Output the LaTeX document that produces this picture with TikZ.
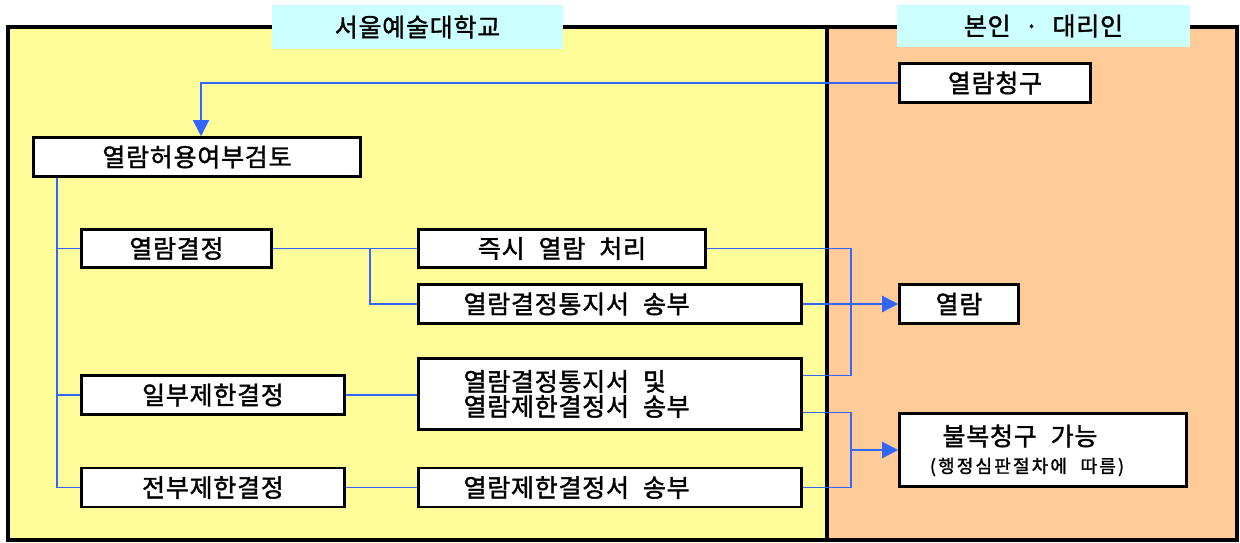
\documentclass[tikz,border=0pt]{standalone}
\usepackage{fontspec}
\setmainfont{Noto Sans CJK KR}[LetterSpace=3,WordSpace=2.2,FakeBold=1.5]
\newfontfamily\smallf{Noto Sans CJK KR}[LetterSpace=12,WordSpace=2.2,FakeBold=1.5]
\usetikzlibrary{arrows.meta}
\definecolor{yel}{HTML}{FFFD99}
\definecolor{org}{HTML}{FFCC99}
\definecolor{cya}{HTML}{CCFFFF}
\definecolor{lnb}{HTML}{3366FF}
\newcommand{\lbx}[1]{\makebox[293pt][l]{#1}}
\tikzset{
  box/.style={draw=black,line width=2.6pt,fill=white,inner sep=0pt,font=\fontsize{25}{25}\selectfont},
  wbox/.style={box,minimum width=383pt,align=left},
  hdr/.style={fill=cya,inner sep=0pt,font=\fontsize{25}{25}\selectfont},
  conn/.style={draw=lnb,line width=1.2pt},
  arr/.style={draw=lnb,line width=2.4pt,-{Triangle[length=16pt,width=16pt]}},
  arrthin/.style={draw=lnb,line width=1.4pt,-{Triangle[length=16pt,width=16pt]}}
}
\begin{document}
\begin{tikzpicture}[x=1pt,y=-1pt]
\useasboundingbox (0,0) rectangle (1240,542);
% panels
\fill[yel] (8,27) rectangle (827,540);
\fill[org] (827,27) rectangle (1237,540);
\draw[line width=4pt] (8,27) rectangle (1237,540);
\draw[line width=4pt] (827,27) -- (827,540);
% headers
\node[hdr,minimum width=291pt,minimum height=44pt] (h1) at (417.5,27) {서울예술대학교};
\node[hdr,minimum width=293pt,minimum height=42pt] (h2) at (1043.5,26) {본인 · 대리인};
% boxes
\node[box,minimum width=191pt,minimum height=39pt] (req) at (995,83) {열람청구};
\node[box,minimum width=327pt,minimum height=39pt] (rev) at (197,157) {열람허용여부검토};
\node[box,minimum width=190pt,minimum height=38pt] (dec) at (176.5,248.5) {열람결정};
\node[box,minimum width=263pt,minimum height=39pt] (part) at (213,395) {일부제한결정};
\node[box,minimum width=263pt,minimum height=39pt] (full) at (213,487.5) {전부제한결정};
\node[box,minimum width=287pt,minimum height=38pt] (imm) at (562,248.5) {즉시 열람 처리};
\node[wbox,minimum height=39pt] (notice) at (610,304) {\lbx{열람결정통지서 송부}};
\node[wbox,minimum height=71pt] (both) at (610,394) {\lbx{열람결정통지서 및}\\\lbx{열람제한결정서 송부}};
\node[wbox,minimum height=39pt] (restr) at (610,487.5) {\lbx{열람제한결정서 송부}};
\node[box,minimum width=119pt,minimum height=39pt] (view) at (959,304) {열람};
\node[box,minimum width=287pt,minimum height=73pt] (appeal) at (1043,450) {};
\node[font=\fontsize{25}{25}\selectfont,inner sep=0pt] (ap1) at (1020,436) {불복청구 가능};
\node[font=\smallf\fontsize{18}{19}\selectfont,inner sep=0pt] (ap2) at (1027,467) {(행정심판절차에 따름)};
% coordinates
\coordinate (a1) at (201,0);
\coordinate (tr) at (57,0);
\coordinate (b1) at (370,0);
\coordinate (m) at (851,0);
\coordinate (bo1) at ([yshift=-18pt]both.north east);
\coordinate (bo2) at ([yshift=18pt]both.south east);
% connectors
\draw[arrthin] (req.west) -- (a1 |- req.west) -- (a1 |- rev.north);
\draw[conn] (rev.south -| tr) -- (tr |- full.west) -- (full.west);
\draw[conn] (tr |- dec.west) -- (dec.west);
\draw[conn] (tr |- part.west) -- (part.west);
\draw[conn] (dec.east) -- (imm.west);
\draw[conn] (b1 |- dec.east) -- (b1 |- notice.west) -- (notice.west);
\draw[conn] (part.east) -- (part.east -| both.west);
\draw[conn] (full.east) -- (full.east -| restr.west);
\draw[conn] (imm.east) -- (m |- imm.east) -- (m |- bo1) -- (bo1);
\draw[conn] (bo2) -- (m |- bo2) -- (m |- restr.east) -- (restr.east);
\draw[arr] (notice.east) -- (view.west);
\draw[arr] (m |- appeal.west) -- (appeal.west);
\end{tikzpicture}
\end{document}
